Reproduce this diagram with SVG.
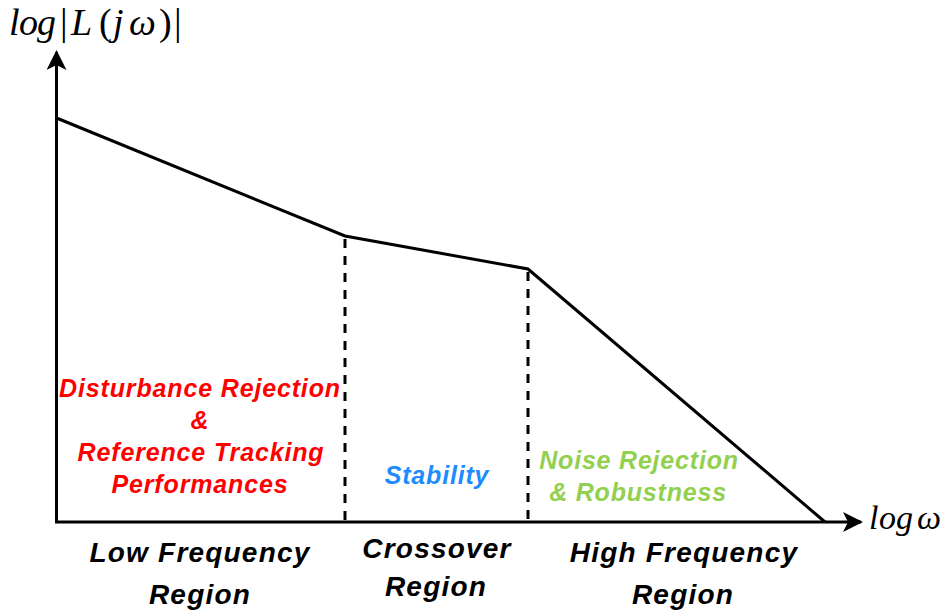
<svg xmlns="http://www.w3.org/2000/svg" width="947" height="612" viewBox="0 0 947 612">
  <style>
    .axis { stroke: #000; stroke-width: 3; fill: none; }
    .curve { stroke: #000; stroke-width: 3; fill: none; stroke-linejoin: miter; }
    .guide { stroke: #000; stroke-width: 3; stroke-dasharray: 9 8; fill: none; }
    .math { font-family: "Liberation Serif", "Times New Roman", serif; font-style: italic; font-size: 38px; fill: #000; }
    .up { font-style: normal; }
    .lbl { font-family: "Liberation Sans", Arial, sans-serif; font-weight: bold; font-style: italic; text-anchor: middle; }
    .region { font-size: 28px; letter-spacing: 1.2px; fill: #000; }
    .red { font-size: 25px; letter-spacing: 0.85px; fill: #FF0000; }
    .blue { font-size: 25px; letter-spacing: 0.8px; fill: #1E8CFF; }
    .green { font-size: 25px; letter-spacing: 0.8px; fill: #92D050; }
  </style>
  <defs>
    <marker id="arrow" viewBox="0 0 20 20" refX="18" refY="10" markerWidth="20" markerHeight="20" markerUnits="userSpaceOnUse" orient="auto">
      <path d="M0,0 L20,10 L0,20 L5,10 Z" fill="#000"/>
    </marker>
  </defs>

  <!-- axes -->
  <g id="axes">
    <path class="axis" d="M56.5,523 L56.5,52" marker-end="url(#arrow)"/>
    <path class="axis" d="M55,522 L861,522" marker-end="url(#arrow)"/>
  </g>

  <!-- axis titles -->
  <g id="y-title">
    <text class="math" y="35"><tspan x="9 19 37">log</tspan><tspan class="up" x="60">|</tspan><tspan x="71">L</tspan><tspan class="up" x="99">(</tspan><tspan x="113 129">jω</tspan><tspan class="up" x="159 174">)|</tspan></text>
  </g>
  <g id="x-title">
    <text class="math" y="529" style="font-size:34px"><tspan x="869 879 896 917">logω</tspan></text>
  </g>

  <!-- loop gain magnitude and region boundaries -->
  <g id="connectors">
    <polyline class="curve" points="56.5,118 345,236 528,269 825,522"/>
    <line class="guide" x1="345" y1="239" x2="345" y2="521"/>
    <line class="guide" x1="528" y1="272" x2="528" y2="521"/>
  </g>

  <!-- requirements in each band -->
  <g id="low-band-note">
    <text class="lbl red" x="200" y="397">Disturbance Rejection</text>
    <text class="lbl red" x="200" y="429">&amp;</text>
    <text class="lbl red" x="201" y="461">Reference Tracking</text>
    <text class="lbl red" x="200" y="493">Performances</text>
  </g>
  <g id="crossover-note">
    <text class="lbl blue" x="437" y="484">Stability</text>
  </g>
  <g id="high-band-note">
    <text class="lbl green" x="639" y="469">Noise Rejection</text>
    <text class="lbl green" x="638" y="501">&amp; Robustness</text>
  </g>

  <!-- band names -->
  <g id="low-region">
    <text class="lbl region" x="200" y="562">Low Frequency</text>
    <text class="lbl region" x="200" y="604">Region</text>
  </g>
  <g id="crossover-region">
    <text class="lbl region" x="437" y="558">Crossover</text>
    <text class="lbl region" x="436" y="596">Region</text>
  </g>
  <g id="high-region">
    <text class="lbl region" x="684" y="562">High Frequency</text>
    <text class="lbl region" x="683" y="604">Region</text>
  </g>
</svg>
